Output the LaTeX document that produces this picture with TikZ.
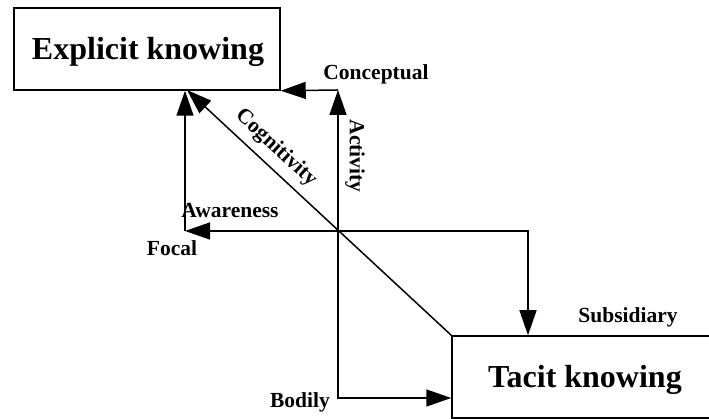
\documentclass[tikz,border=0pt]{standalone}
\usepackage{fontspec}
\setmainfont{Liberation Serif}
\usetikzlibrary{arrows.meta,calc}
\begin{document}
\begin{tikzpicture}[x=1pt,y=1pt,
  line width=1.5pt,
  arr/.style={-{Triangle[length=25pt,width=17pt]}},
  bigbox/.style={draw,rectangle,inner sep=0pt},
  bigtxt/.style={inner sep=0pt,font=\fontsize{32}{38}\selectfont\bfseries},
  lbl/.style={inner sep=0pt,font=\fontsize{21.5}{25}\selectfont\bfseries}]
  \clip (0,0) rectangle (709,419);
  % the two knowing boxes
  \node[bigbox,minimum width=266pt,minimum height=82pt] (explicit) at (147,370) {};
  \node[bigbox,minimum width=263pt,minimum height=82pt] (tacit) at (583.5,42) {};
  \node[bigtxt,anchor=base] (extxt) at (148,359) {Explicit knowing};
  \node[bigtxt,anchor=base] (tatxt) at (585,31) {Tacit knowing};
  % crossing point and corners of the axes
  \coordinate (ctr) at (338,188);
  \coordinate (cc) at (338,329);
  \coordinate (bc) at (338,21);
  \coordinate (fc) at (185,188);
  \coordinate (sc) at (528,188);
  \coordinate (cogtip) at (187,329);
  % Activity axis
  \draw[arr] (ctr) -- (cc);
  \draw[arr] (cc) -- (explicit.south east);
  \draw[arr] (ctr) -- (bc) -- (bc -| tacit.west);
  % Awareness axis
  \draw[arr] (ctr) -- (fc);
  \draw[arr] (fc) -- (fc |- explicit.south);
  \draw[arr] (ctr) -- (sc) -- (sc |- tacit.north);
  % Cognitivity diagonal
  \draw[arr] (tacit.north west) -- (cogtip);
  % labels
  \node[lbl,anchor=base] (conceptual) at (376,339) {Conceptual};
  \node[lbl,anchor=base] (awareness) at (230,201) {Awareness};
  \node[lbl,anchor=base] (focal) at (172,163) {Focal};
  \node[lbl,anchor=base] (bodily) at (300,11) {Bodily};
  \node[lbl,anchor=base] (subsidiary) at (628,96) {Subsidiary};
  \node[lbl,rotate=-90] (activity) at (355,263) {Activity};
  \node[lbl,rotate=-42.6] (cognitivity) at (276,271) {Cognitivity};
\end{tikzpicture}
\end{document}
